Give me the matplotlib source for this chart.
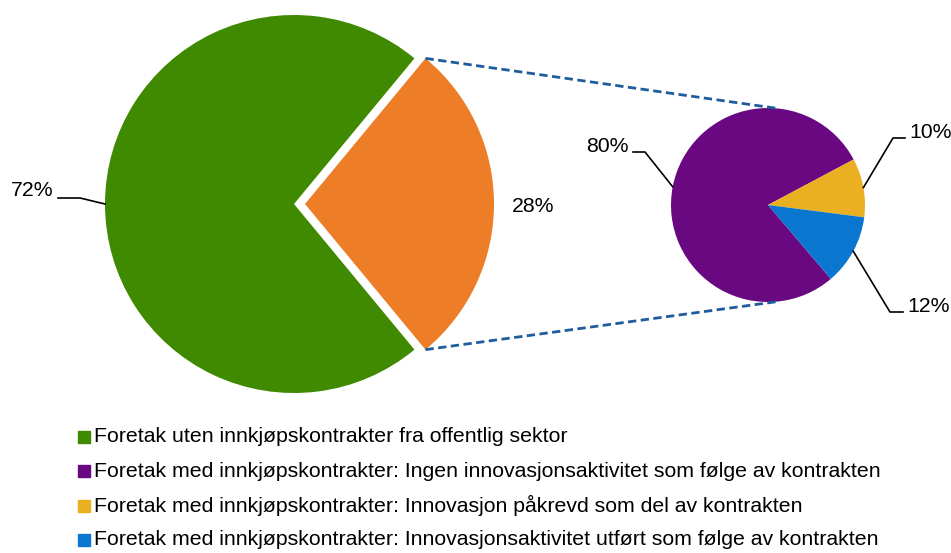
import matplotlib
matplotlib.use("Agg")
import matplotlib.pyplot as plt
import numpy as np

plt.rcParams["font.family"] = ["Liberation Sans", "DejaVu Sans"]

# data
main_labels = ["Foretak uten innkjøpskontrakter fra offentlig sektor", "Foretak med innkjøpskontrakter"]
main_values = [72, 28]
sub_labels = ["Foretak med innkjøpskontrakter: Ingen innovasjonsaktivitet som følge av kontrakten",
              "Foretak med innkjøpskontrakter: Innovasjon påkrevd som del av kontrakten",
              "Foretak med innkjøpskontrakter: Innovasjonsaktivitet utført som følge av kontrakten"]
sub_values = [80, 10, 12]

GREEN, ORANGE = "#3F8A00", "#ED7D27"
PURPLE, YELLOW, BLUE = "#6A0882", "#EBB022", "#0B76D0"
LINE = "#1F5C9C"

W, H = 951, 553
fig = plt.figure(figsize=(W / 100, H / 100), dpi=100)
ax = fig.add_axes([0, 0, 1, 1])

def py(y):  # pixel row -> data y
    return H - y

# main pie, orange slice pulled out
mc, mr, gap = (294, py(204)), 189, 11
orange_frac = main_values[1] / sum(main_values)
start = orange_frac * 180
wedges, _ = ax.pie(main_values, colors=[GREEN, ORANGE], startangle=start, counterclock=True,
                   center=mc, radius=mr, explode=[0, gap], wedgeprops=dict(linewidth=0))

# sub pie
sc, sr = (768, py(205)), 97
sub_frac = np.array(sub_values) / sum(sub_values)
sub_start = 28 + sub_frac[0] * 360
sw, _ = ax.pie(sub_values, colors=[PURPLE, YELLOW, BLUE], startangle=sub_start, counterclock=False,
               center=sc, radius=sr, wedgeprops=dict(linewidth=0))

ax.set_xlim(0, W)
ax.set_ylim(0, H)
ax.set_aspect("equal")
ax.axis("off")

# connector lines
ox = mc[0] + gap
for sgn in (1, -1):
    a = np.deg2rad(start) * sgn
    p0 = (ox + mr * np.cos(a), mc[1] + mr * np.sin(a))
    b = np.deg2rad(84) * sgn
    p1 = (sc[0] + sr * np.cos(b), sc[1] + sr * np.sin(b))
    ax.plot([p0[0], p1[0]], [p0[1], p1[1]], color=LINE, lw=2, ls=(0, (3, 1.6)))

def mid_point(w, c, r):
    a = np.deg2rad((w.theta1 + w.theta2) / 2)
    return c[0] + r * np.cos(a), c[1] + r * np.sin(a)

fs = 15.3
# 72%
p = mid_point(wedges[0], mc, mr)
ax.plot([p[0], 80, 58], [p[1], py(198), py(198)], color="black", lw=1.2)
ax.text(54, py(190), f"{main_values[0]}%", ha="right", va="center", fontsize=fs)
# 28%
ax.text(512, py(207), f"{main_values[1]}%", ha="left", va="center", fontsize=fs)
# 80%
p = mid_point(sw[0], sc, sr)
ax.plot([p[0], 645, 633], [p[1], py(152), py(152)], color="black", lw=1.2)
ax.text(629, py(146), f"{sub_values[0]}%", ha="right", va="center", fontsize=fs)
# 10%
p = mid_point(sw[1], sc, sr)
ax.plot([p[0], 893, 905], [p[1], py(138), py(138)], color="black", lw=1.2)
ax.text(909, py(133), f"{sub_values[1]}%", ha="left", va="center", fontsize=fs)
# 12%
p = mid_point(sw[2], sc, sr)
ax.plot([p[0], 890, 903], [p[1], py(312), py(312)], color="black", lw=1.2)
ax.text(907, py(306), f"{sub_values[2]}%", ha="left", va="center", fontsize=fs)

# legend, drawn by hand
leg_labels = [main_labels[0]] + sub_labels
leg_colors = [GREEN, PURPLE, YELLOW, BLUE]
for i, (lab, col) in enumerate(zip(leg_labels, leg_colors)):
    y = py(437 + i * 34.3)
    ax.plot([84], [y], marker="s", ms=8.5, color=col, ls="")
    ax.text(94, y, lab, ha="left", va="center", fontsize=fs)

fig.savefig("out.png", dpi=100)
